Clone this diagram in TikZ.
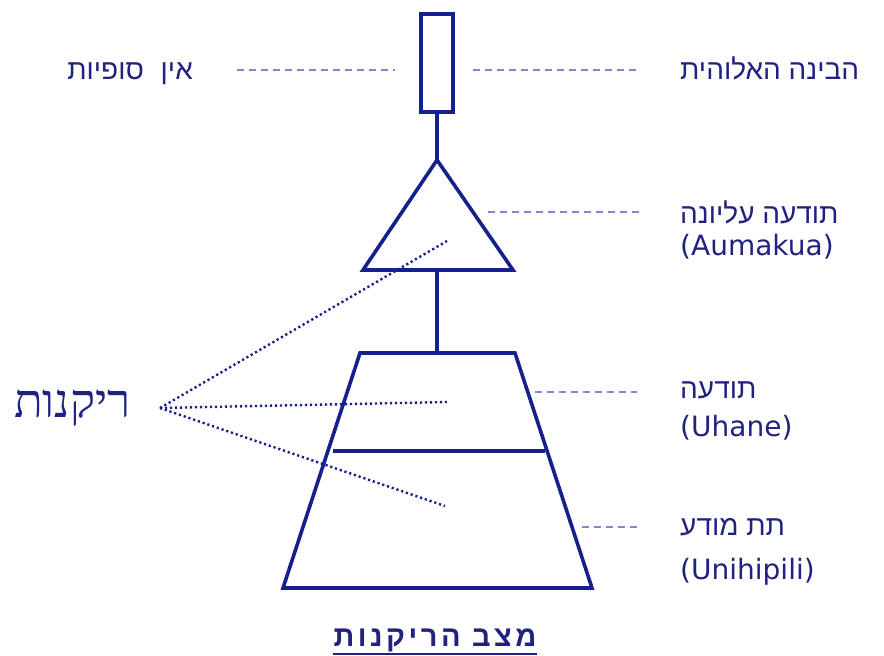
\documentclass[tikz,border=0pt]{standalone}
\usepackage{fontspec}
\setmainfont{DejaVu Sans}
\newfontfamily\hebfont[Script=Hebrew]{Liberation Sans}
\newfontfamily\hebserif[Script=Hebrew]{Liberation Serif}
\newfontfamily\hebwide[Script=Hebrew, LetterSpace=12]{Liberation Sans}
\TeXXeTstate=1

\definecolor{navy}{RGB}{22,32,140}
\definecolor{ink}{RGB}{32,34,128}
\definecolor{paleblue}{RGB}{128,136,206}

\tikzset{
  outline/.style={draw=navy, line width=3.6pt, line join=miter},
  guide/.style={draw=paleblue, line width=2.8pt, dash pattern=on 7pt off 5pt},
  ray/.style={draw=navy, line width=2.4pt, dash pattern=on 2.2pt off 2.8pt},
  lbl/.style={anchor=west, inner sep=0pt, text=ink, font=\fontsize{28}{32}\selectfont},
}

\begin{document}
\begin{tikzpicture}[x=1pt, y=-1pt]

  %% ==== shapes ====
  \node[outline, minimum width=32pt, minimum height=98pt, inner sep=0pt] (mind) at (437,63) {};
  \coordinate (apex) at (437,160);
  \coordinate (triL) at (363,270);
  \coordinate (triR) at (513,270);
  \coordinate (triB) at (437,270);
  \coordinate (topL) at (360,353);
  \coordinate (topR) at (515,353);
  \coordinate (topM) at (437,353);
  \coordinate (botL) at (283,588);
  \coordinate (botR) at (592,588);
  \coordinate (midL) at (333,451);
  \coordinate (midR) at (545,451);

  \draw[outline] (mind.south) -- (apex);
  \draw[outline] (apex) -- (triR) -- (triL) -- cycle;
  \draw[outline] (triB) -- (topM);
  \draw[outline] (topL) -- (topR) -- (botR) -- (botL) -- cycle;
  \draw[outline] (midL) -- (midR);

  %% ==== labels ====
  \node[lbl] (divine) at (680,68) {\hebfont\beginR הבינה האלוהית\endR};
  \node[lbl, anchor=base east] (infinite) at (193,0 |- divine.base) {\hebfont\beginR אין\hspace{9pt} סופיות\endR};
  \node[lbl] (higher) at (680,212) {\hebfont\beginR תודעה עליונה\endR};
  \node[lbl] (aumakua) at (680,247) {(Aumakua)};
  \node[lbl] (conscious) at (680,390) {\hebfont\beginR תודעה\endR};
  \node[lbl] (uhane) at (680,428) {(Uhane)};
  \node[lbl] (subcon) at (680,527) {\hebfont\beginR תת מודע\endR};
  \node[lbl] (unihipili) at (680,572) {(Unihipili)};
  \node[lbl, anchor=east, font=\fontsize{47}{52}\selectfont] (void) at (131,408) {\hebserif\beginR ריקנות\endR};
  \node[lbl, anchor=center, inner ysep=2pt, font=\fontsize{29}{33}\selectfont\bfseries] (title) at (435,640) {\hebwide\bfseries\beginR מצב הריקנות\endR};
  \draw[ink, line width=1.8pt] (title.south west) -- (title.south east);

  %% ==== dashed guides ====
  \coordinate (gA1) at (237,70);  \coordinate (gA2) at (395,70);
  \coordinate (gB1) at (473,70);  \coordinate (gB2) at (636,70);
  \coordinate (gC1) at (488,212); \coordinate (gC2) at (640,212);
  \coordinate (gD1) at (535,392); \coordinate (gD2) at (637,392);
  \coordinate (gE1) at (582,527); \coordinate (gE2) at (637,527);
  \draw[guide] (gA1) -- (gA2);
  \draw[guide] (gB1) -- (gB2);
  \draw[guide] (gC1) -- (gC2);
  \draw[guide] (gD1) -- (gD2);
  \draw[guide] (gE1) -- (gE2);

  %% ==== dotted rays ====
  \coordinate (hub) at (160,408);
  \foreach \e in {(447,241), (447,402), (445,506)}
    \draw[ray] (hub) -- \e;

  \pgfresetboundingbox
  \path[use as bounding box] (0,0) rectangle (884,656);
\end{tikzpicture}
\end{document}
